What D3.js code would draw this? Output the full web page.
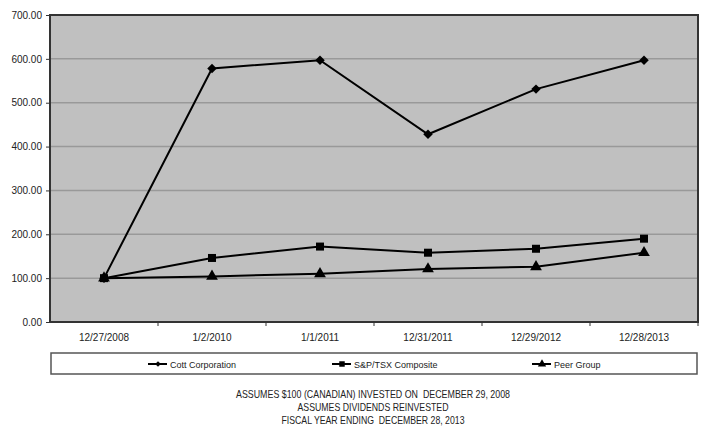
<!DOCTYPE html>
<html><head><meta charset="utf-8">
<script src="https://cdn.jsdelivr.net/npm/d3@7"></script>
<style>body{margin:0;background:#fff}svg{display:block}</style>
</head><body>
<svg id="c" width="710" height="431"></svg>
<script>
const categories = ["12/27/2008","1/2/2010","1/1/2011","12/31/2011","12/29/2012","12/28/2013"];
const cott = [100, 578, 597, 428, 531, 597];
const sptsx = [100, 146, 172, 158, 167, 190];
const peer = [100, 104, 110, 121, 126, 158];
const yTicks = [0,100,200,300,400,500,600,700];
const seriesNames = ["Cott Corporation","S&P/TSX Composite","Peer Group"];
const footnotes = ["ASSUMES $100 (CANADIAN) INVESTED ON  DECEMBER 29, 2008","ASSUMES DIVIDENDS REINVESTED","FISCAL YEAR ENDING  DECEMBER 28, 2013"];
const footWidths = [274, 151, 183];

const svg = d3.select("#c");
const L=50,R=698,T=15,B=322;
const x = d3.scaleBand().domain(categories).range([L,R]);
const y = d3.scaleLinear().domain([0,700]).range([B,T]);

svg.append("rect").attr("x",L).attr("y",T).attr("width",R-L).attr("height",B-T).attr("fill","#c0c0c0");
svg.append("g").selectAll("line").data(yTicks.slice(1,-1)).join("line")
  .attr("x1",L).attr("x2",R).attr("y1",d=>y(d)).attr("y2",d=>y(d))
  .attr("stroke","#999").attr("stroke-width",1.5);
svg.append("rect").attr("x",L).attr("y",T).attr("width",R-L).attr("height",B-T)
  .attr("fill","none").attr("stroke","#333").attr("stroke-width",2);

const yAxis = svg.append("g").attr("transform",`translate(${L},0)`)
  .call(d3.axisLeft(y).tickValues(yTicks).tickFormat(d3.format(".2f")).tickSize(4).tickPadding(4));
yAxis.select(".domain").remove();
yAxis.selectAll("line").attr("stroke","#333");
yAxis.selectAll("text").attr("font-family","Liberation Sans, Arial").attr("font-size",10).attr("fill","#222");

const xAxis = svg.append("g").attr("transform",`translate(0,${B})`)
  .call(d3.axisBottom(x).tickSize(0).tickPadding(12));
xAxis.select(".domain").remove();
xAxis.selectAll("text").attr("font-family","Liberation Sans, Arial").attr("font-size",10).attr("fill","#222");
svg.append("g").selectAll("line").data(categories).join("line")
  .attr("x1",(d,i)=>L+(i+1)*x.bandwidth()).attr("x2",(d,i)=>L+(i+1)*x.bandwidth())
  .attr("y1",B).attr("y2",B+4).attr("stroke","#333");

const line = d3.line().x((d,i)=>x(categories[i])+x.bandwidth()/2).y(d=>y(d));
const sym = [d3.symbolSquare, d3.symbolSquare, d3.symbolTriangle];
const rot = [45, 0, 0];
const sizes = [45, 64, 60];
const data = [cott, sptsx, peer];
data.forEach((s,k)=>{
  svg.append("path").datum(s).attr("d",line).attr("fill","none").attr("stroke","#000").attr("stroke-width",2);
  svg.append("g").selectAll("path").data(s).join("path")
    .attr("transform",(d,i)=>`translate(${x(categories[i])+x.bandwidth()/2},${y(d)}) rotate(${rot[k]})`)
    .attr("d",d3.symbol(sym[k],sizes[k])).attr("fill","#000");
});

// legend
svg.append("rect").attr("x",51).attr("y",353).attr("width",646).attr("height",21)
  .attr("fill","#fff").attr("stroke","#555").attr("stroke-width",1.5);
const lx=[148,332,532];
seriesNames.forEach((n,k)=>{
  const g=svg.append("g");
  g.append("line").attr("x1",lx[k]).attr("x2",lx[k]+19).attr("y1",364).attr("y2",364).attr("stroke","#000").attr("stroke-width",2);
  g.append("path").attr("transform",`translate(${lx[k]+10},364) rotate(${rot[k]})`).attr("d",d3.symbol(sym[k],k==0?16:30)).attr("fill","#000");
  g.append("text").attr("x",lx[k]+22).attr("y",367.5).text(n)
    .attr("font-family","Liberation Sans, Arial").attr("font-size",9).attr("fill","#222");
});

svg.append("g").selectAll("text").data(footnotes).join("text")
  .attr("x",373).attr("y",(d,i)=>398+i*13).attr("text-anchor","middle")
  .attr("font-family","Liberation Sans Narrow, Liberation Sans, Arial").attr("font-size",11).attr("fill","#222")
  .attr("textLength",(d,i)=>footWidths[i]).attr("lengthAdjust","spacingAndGlyphs")
  .style("white-space","pre").text(d=>d);
</script>
</body></html>
